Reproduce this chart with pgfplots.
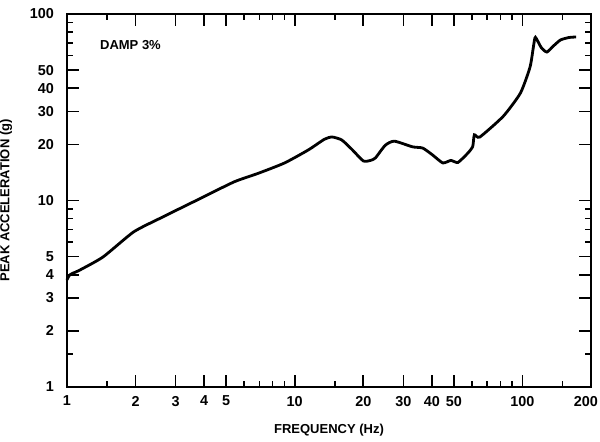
\documentclass[border=0pt]{standalone}
\usepackage{fontspec}
\setmainfont{Liberation Sans}
\usepackage{pgfplots}
\pgfplotsset{compat=1.18}

\begin{document}
\begin{tikzpicture}
\begin{axis}[
  scale only axis,
  width=262pt, height=186.5pt,
  xmode=log, ymode=log,
  xmin=1, xmax=200, ymin=1, ymax=100,
  axis line style={line width=1.1pt},
  tick style={line width=0.8pt, black},
  tick align=inside,
  major tick length=6pt,
  minor tick length=3.2pt,
  xtick={1,2,3,4,5,10,20,30,40,50,100,200},
  xticklabels={1,2,3,4,5,10,20,30,40,50,100,\makebox[0pt][r]{200\kern-3.5pt}},
  minor xtick={1.5,6,7,8,9,15,60,70,80,90,150},
  ytick={1,2,3,4,5,10,20,30,40,50,100},
  yticklabels={1,2,3,4,5,10,20,30,40,50,100},
  minor ytick={1.5,6,7,8,9,60,70,80,90},
  ticklabel style={font=\fontsize{7.2}{8}\selectfont\bfseries},
  xticklabel style={yshift=-1pt},
  yticklabel style={xshift=-3pt},
  xlabel={FREQUENCY (Hz)},
  ylabel={PEAK ACCELERATION (g)},
  label style={font=\fontsize{6.5}{8}\selectfont\bfseries},
  xlabel style={yshift=-2pt},
  ylabel style={yshift=2pt},
  clip=false,
]
% acceleration response spectrum, 3% damping
\addplot[black, line width=1.4pt, smooth, tension=0.35] coordinates {
  (1.00,3.75) (1.02,3.95) (1.05,4.05) (1.14,4.24) (1.44,4.98)
  (1.96,6.78) (2.58,8.06) (3.88,10.3) (5.43,12.6) (6.93,14.0)
  (9.03,15.9) (11.5,18.7) (13.5,21.3) (14.6,21.9) (16.1,21.1)
  (17.9,18.7) (20.0,16.3) (21.5,16.4) (22.6,16.9) (25.0,19.8)
  (27.4,20.8) (32.9,19.4) (36.5,19.1) (40.4,17.5) (44.7,15.9)
  (48.5,16.4) (52.1,16.0) (57.7,18.0) (60.5,19.5) (61.5,22.5)
  (65.0,21.9) (82.4,28.3) (98.0,37.7) (108,52) (112,68) (114,75)
  (121,66) (128,62.5) (137,67.5) (147,72.6) (160,74.8) (172,75.3)
};
\node[font=\fontsize{6.5}{8}\selectfont\bfseries] at (axis cs:1.9,68) {DAMP 3\%};
\end{axis}
\pgfresetboundingbox
\path ([shift={(-33.5pt,-27.5pt)}]current axis.south west)
  rectangle ([shift={(4.5pt,7pt)}]current axis.north east);
\end{tikzpicture}
\end{document}
